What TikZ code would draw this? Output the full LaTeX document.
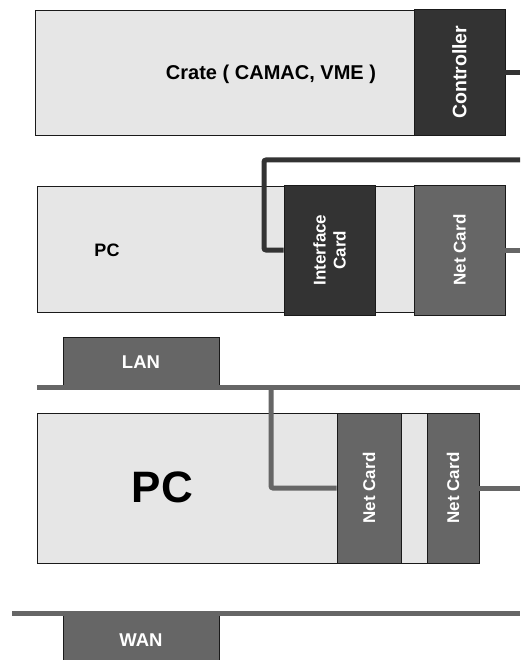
\documentclass[tikz,border=0pt]{standalone}
\usepackage{fontspec}
\setmainfont{Liberation Sans}
\definecolor{lightg}{HTML}{E6E6E6}
\definecolor{darkg}{HTML}{333333}
\definecolor{midg}{HTML}{666666}
\definecolor{edge}{HTML}{1A1A1A}
\begin{document}
\begin{tikzpicture}[x=1pt,y=-1pt,
  box/.style={draw=edge, line width=0.9pt, fill=lightg, inner sep=0pt},
  darkcard/.style={draw=edge, line width=0.9pt, fill=darkg, inner sep=0pt},
  midcard/.style={draw=edge, line width=0.9pt, fill=midg, inner sep=0pt},
  blacktxt/.style={font=\bfseries\fontsize{18}{21}\selectfont, text=black, inner sep=0pt},
  whitetxt/.style={font=\bfseries\fontsize{17}{20}\selectfont, text=white, inner sep=0pt, align=center},
  darkwire/.style={draw=darkg, line width=5pt, rounded corners=2pt},
  midwire/.style={draw=midg, line width=5pt, rounded corners=2pt}]
\useasboundingbox (0,0) rectangle (520,660);

% Crate
\node[box, minimum width=379pt, minimum height=125pt] (crate) at (224.5,72.5) {};
\node[blacktxt, font=\bfseries\fontsize{20}{24}\selectfont] (cratetxt) at (271,74) {Crate ( CAMAC, VME )};
\node[darkcard, minimum width=91pt, minimum height=125.5pt] (controller) at (459.5,72.25) {};
\node[whitetxt, rotate=90, font=\bfseries\fontsize{19.5}{23}\selectfont] (controllertxt) at (controller.center) {Controller};

% PC 1
\node[box, minimum width=377pt, minimum height=126pt] (pc1) at (225.5,249.5) {};
\node[blacktxt] (pc1txt) at (107,250) {PC};
\node[darkcard, minimum width=91pt, minimum height=130pt] (iface) at (329.5,250) {};
\node[whitetxt, rotate=90] (ifacetxt) at (iface.center) {Interface\\Card};
\node[midcard, minimum width=91pt, minimum height=130pt] (net1) at (459.5,250) {};
\node[whitetxt, rotate=90] (net1txt) at (net1.center) {Net Card};

% LAN
\node[midcard, minimum width=156pt, minimum height=50pt] (lan) at (141,362) {};
\node[whitetxt, font=\bfseries\fontsize{18.5}{22}\selectfont] (lantxt) at (lan.center) {LAN};
\coordinate (lanL) at (37,387);
\coordinate (lanR) at (520,387);
\coordinate (drop) at (271,387);

% PC 2
\node[box, minimum width=442pt, minimum height=150pt] (pc2) at (258,488) {};
\node[blacktxt, font=\bfseries\fontsize{44}{50}\selectfont] (pc2txt) at (162.5,487.5) {PC};
\node[midcard, minimum width=64pt, minimum height=150pt] (net2a) at (369,488) {};
\node[whitetxt, rotate=90] (net2atxt) at (net2a.center) {Net Card};
\node[midcard, minimum width=52pt, minimum height=150pt] (net2b) at (453,488) {};
\node[whitetxt, rotate=90] (net2btxt) at (net2b.center) {Net Card};

% WAN
\coordinate (wanL) at (12,613);
\coordinate (wanR) at (520,613);
\node[midcard, minimum width=156pt, minimum height=54pt] (wan) at (141,640) {};
\node[whitetxt, font=\bfseries\fontsize{18.5}{22}\selectfont] (wantxt) at (wan.center) {WAN};

% free ends
\coordinate (ctrlend) at (520,72.25);
\coordinate (bend) at (264,160);
\coordinate (ifend) at (520,160);
\coordinate (net1end) at (520,250);
\coordinate (net2end) at (520,488);

% wires
\draw[darkwire] (controller.east) -- (ctrlend);
\draw[darkwire] (iface.west) -| (bend) -- (ifend);
\draw[midwire] (net1.east) -- (net1end);
\draw[midwire, rounded corners=0pt] (lanL) -- (lanR);
\draw[midwire] (drop) |- (net2a.west);
\draw[midwire] (net2b.east) -- (net2end);
\draw[midwire, rounded corners=0pt] (wanL) -- (wanR);
\end{tikzpicture}
\end{document}
